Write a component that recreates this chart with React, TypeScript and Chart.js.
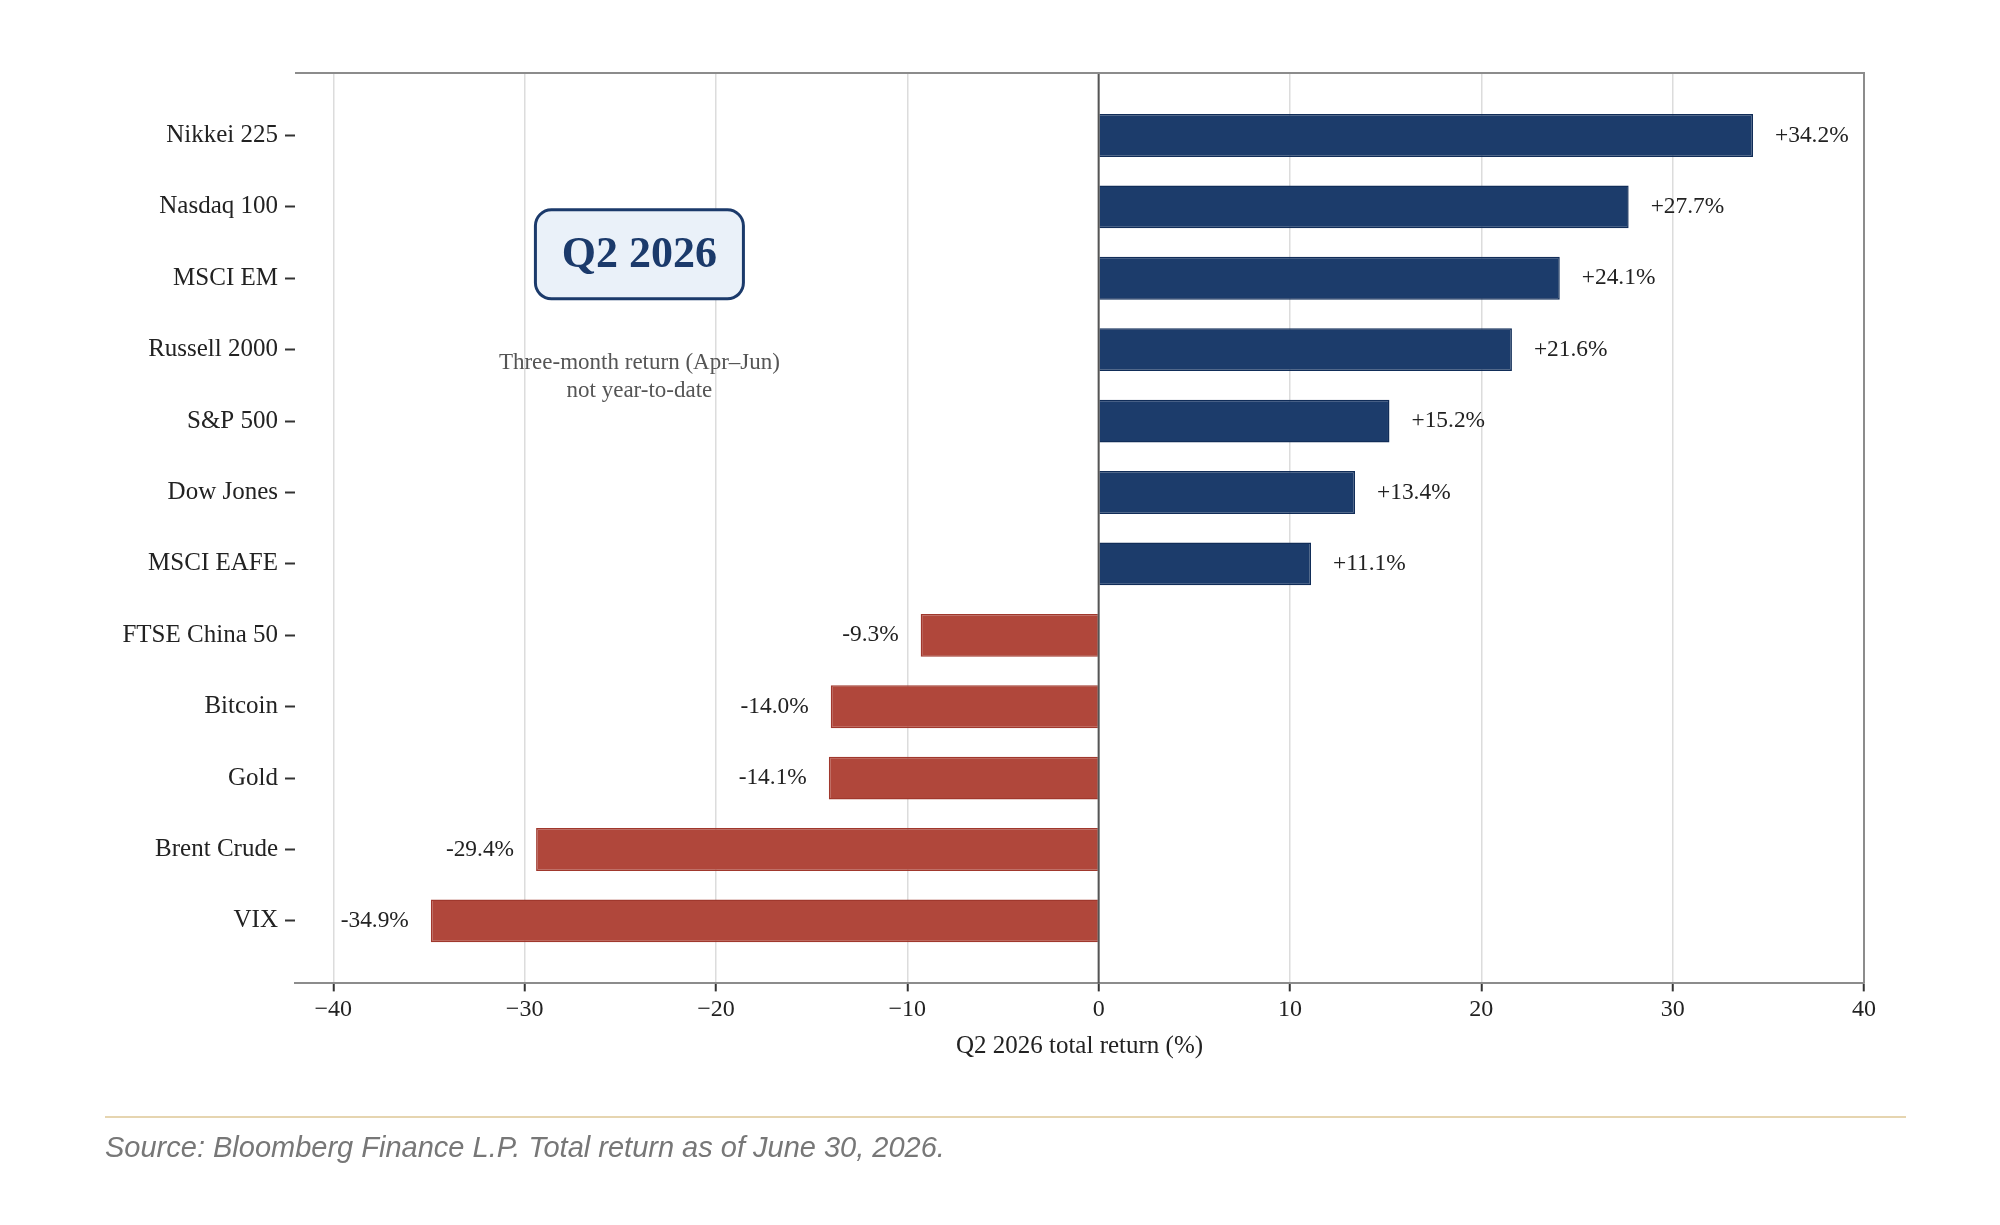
import { useEffect, useRef } from "react"
import { Chart, registerables } from "chart.js"

Chart.register(...registerables)

const categories = [
  "Nikkei 225",
  "Nasdaq 100",
  "MSCI EM",
  "Russell 2000",
  "S&P 500",
  "Dow Jones",
  "MSCI EAFE",
  "FTSE China 50",
  "Bitcoin",
  "Gold",
  "Brent Crude",
  "VIX",
]
const returns = [34.2, 27.7, 24.1, 21.6, 15.2, 13.4, 11.1, -9.3, -14.0, -14.1, -29.4, -34.9]
const xTicks = [-40, -30, -20, -10, 0, 10, 20, 30, 40]

// annotation anchor, in data units
const noteTitle = "Q2 2026"
const noteLines = ["Three-month return (Apr\u2013Jun)", "not year-to-date"]
const noteX = -24
const noteY = 1.665

const SERIF = '"Liberation Serif", "Times New Roman", serif'
const NAVY = "#1c3c6b"
const RED = "#b0473b"

const overlay = {
  id: "overlay",
  afterDatasetsDraw(chart: any) {
    const { ctx, chartArea: a, scales } = chart
    const x = scales.x
    const y = scales.y
    ctx.save()

    // zero line on top of the bars
    const x0 = x.getPixelForValue(0)
    ctx.strokeStyle = "#555"
    ctx.lineWidth = 2
    ctx.beginPath()
    ctx.moveTo(x0, a.top)
    ctx.lineTo(x0, a.bottom)
    ctx.stroke()

    // top + right spines
    ctx.strokeStyle = "#8c8c8c"
    ctx.lineWidth = 2
    ctx.beginPath()
    ctx.moveTo(a.left, a.top)
    ctx.lineTo(a.right, a.top)
    ctx.lineTo(a.right, a.bottom)
    ctx.stroke()

    // value labels
    ctx.font = `23.4px ${SERIF}`
    ctx.fillStyle = "#222"
    ctx.textBaseline = "middle"
    const meta = chart.getDatasetMeta(0)
    meta.data.forEach((bar: any, i: number) => {
      const v = returns[i]
      const txt = (v > 0 ? "+" : "") + v.toFixed(1) + "%"
      if (v >= 0) {
        ctx.textAlign = "left"
        ctx.fillText(txt, bar.x + 22, bar.y)
      } else {
        ctx.textAlign = "right"
        ctx.fillText(txt, bar.x - 22, bar.y)
      }
    })

    // note box
    const cx = x.getPixelForValue(noteX)
    const cy = y.getPixelForValue(noteY)
    const w = 208
    const h = 89
    ctx.beginPath()
    ctx.roundRect(cx - w / 2, cy - h / 2, w, h, 16)
    ctx.fillStyle = "#eaf1f9"
    ctx.fill()
    ctx.strokeStyle = "#1b3a6b"
    ctx.lineWidth = 3
    ctx.stroke()
    ctx.fillStyle = "#1b3a6b"
    ctx.font = `bold 44px ${SERIF}`
    ctx.textAlign = "center"
    ctx.fillText(noteTitle, cx, cy + 1)

    ctx.fillStyle = "#555"
    ctx.font = `23px ${SERIF}`
    noteLines.forEach((line, i) => {
      ctx.fillText(line, cx, cy + 109 + i * 28)
    })
    ctx.restore()
  },
}

function ReturnsChart() {
  const canvasRef = useRef<HTMLCanvasElement>(null)
  const chartRef = useRef<Chart | null>(null)

  useEffect(() => {
    if (!canvasRef.current) return
    const ctx = canvasRef.current.getContext("2d")
    if (!ctx) return

    Chart.defaults.font.family = SERIF

    chartRef.current = new Chart(ctx, {
      type: "bar",
      data: {
        datasets: [
          {
            data: returns.map((v, i) => ({ x: v, y: i })),
            backgroundColor: returns.map((v) => (v >= 0 ? NAVY : RED)),
            borderColor: returns.map((v) => (v >= 0 ? "#112d58" : "#a0382d")),
            borderWidth: 1.5,
            categoryPercentage: 1,
            barPercentage: 0.6,
          },
        ],
      },
      options: {
        indexAxis: "y",
        animation: false,
        responsive: true,
        maintainAspectRatio: false,
        layout: { padding: { top: 73, right: 136, bottom: 163.6, left: 0 } },
        plugins: {
          legend: { display: false },
          tooltip: { enabled: false },
        },
        scales: {
          x: {
            type: "linear",
            min: -42,
            max: 40,
            afterBuildTicks: (scale: any) => {
              scale.ticks = xTicks.map((v) => ({ value: v }))
            },
            afterFit: (scale: any) => {
              scale.height = 78
            },
            ticks: {
              autoSkip: false,
              maxRotation: 0,
              padding: 4,
              color: "#222",
              font: { size: 24 },
              callback: (v: any) => (v < 0 ? "\u2212" + Math.abs(v) : String(v)),
            },
            grid: {
              color: "#dcdcdc",
              lineWidth: 1.5,
              tickColor: "#333",
              tickLength: 8,
              tickWidth: 2,
            },
            border: { display: true, color: "#8c8c8c", width: 2 },
            title: {
              display: true,
              text: "Q2 2026 total return (%)",
              color: "#222",
              font: { size: 25 },
              padding: 0,
            },
          },
          y: {
            type: "linear",
            min: -0.875,
            max: 11.875,
            reverse: true,
            offset: false,
            afterBuildTicks: (scale: any) => {
              scale.ticks = categories.map((_, i) => ({ value: i }))
            },
            afterFit: (scale: any) => {
              scale.width = 295
            },
            ticks: {
              autoSkip: false,
              padding: 7,
              color: "#222",
              font: { size: 25 },
              callback: (v: any) => categories[v],
            },
            grid: {
              offset: false,
              drawOnChartArea: false,
              drawTicks: true,
              tickLength: 10,
              tickColor: "#333",
              tickWidth: 2,
            },
            border: { display: false },
          },
        },
      },
      plugins: [overlay],
    })

    return () => {
      if (chartRef.current) {
        chartRef.current.destroy()
        chartRef.current = null
      }
    }
  }, [])

  return <canvas ref={canvasRef} />
}

export default function App() {
  useEffect(() => {
    document.body.style.margin = "0"
  }, [])

  return (
    <div style={{ position: "relative", width: 2000, height: 1225, background: "#fff" }}>
      <div style={{ position: "absolute", left: 0, top: 0, width: 2000, height: 1225 }}>
        <ReturnsChart />
      </div>
      <div
        style={{
          position: "absolute",
          left: 105,
          top: 1116,
          width: 1801,
          borderTop: "2px solid #e6d5b0",
        }}
      />
      <div
        style={{
          position: "absolute",
          left: 105,
          top: 1130,
          fontFamily: '"Liberation Sans", Arial, sans-serif',
          fontStyle: "italic",
          fontSize: 29,
          lineHeight: "34px",
          color: "#777",
          whiteSpace: "nowrap",
        }}
      >
        Source: Bloomberg Finance L.P. Total return as of June 30, 2026.
      </div>
    </div>
  )
}
